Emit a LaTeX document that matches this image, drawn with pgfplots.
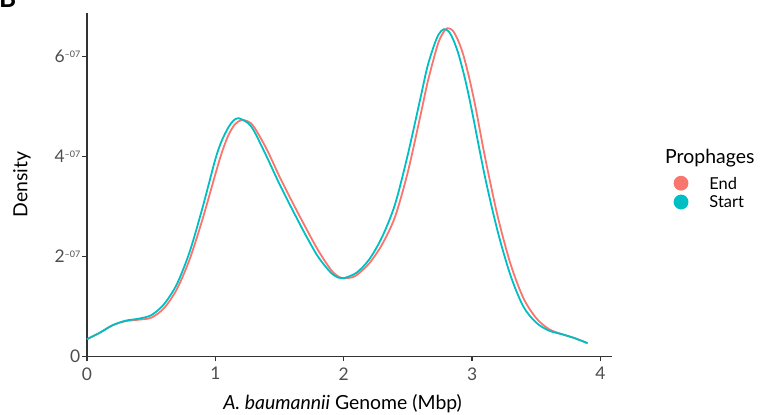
\documentclass[border=0pt]{standalone}
\usepackage{fontspec}
\setmainfont{Lato}
\usepackage{pgfplots}
\pgfplotsset{compat=1.18}
\definecolor{endc}{HTML}{F8766D}
\definecolor{startc}{HTML}{00BFC4}
\definecolor{axc}{HTML}{333333}
\definecolor{tickc}{HTML}{4D4D4D}
\newcommand{\ex}{\raisebox{5.5bp}{\fontsize{9}{9}\selectfont –07}}

% density curves, y in units of 1e-7
\pgfplotstableread{
x y
0.00 0.35
0.10 0.48
0.20 0.63
0.30 0.71
0.40 0.74
0.50 0.78
0.60 0.97
0.70 1.35
0.80 1.95
0.90 2.75
1.00 3.65
1.05 4.08
1.10 4.42
1.15 4.64
1.20 4.73
1.25 4.71
1.30 4.60
1.40 4.15
1.50 3.60
1.60 3.09
1.70 2.60
1.80 2.13
1.90 1.74
1.96 1.60
2.00 1.57
2.05 1.58
2.10 1.63
2.20 1.87
2.30 2.25
2.40 2.80
2.50 3.70
2.60 4.85
2.65 5.45
2.70 5.95
2.74 6.30
2.78 6.50
2.81 6.57
2.85 6.52
2.89 6.33
2.93 6.05
2.98 5.55
3.03 4.95
3.10 4.00
3.20 2.80
3.30 1.85
3.40 1.17
3.50 0.77
3.60 0.55
3.70 0.45
3.80 0.37
3.90 0.27
}\enddata

\pgfplotstableread{
x y
0.00 0.35
0.10 0.48
0.20 0.63
0.30 0.72
0.40 0.76
0.50 0.83
0.60 1.05
0.70 1.45
0.80 2.10
0.90 2.98
1.00 3.95
1.05 4.32
1.10 4.58
1.14 4.72
1.18 4.77
1.25 4.68
1.30 4.52
1.40 4.00
1.50 3.45
1.60 2.94
1.70 2.45
1.80 2.00
1.90 1.68
1.96 1.58
2.00 1.57
2.10 1.68
2.20 1.95
2.30 2.40
2.40 3.05
2.50 4.05
2.60 5.20
2.65 5.78
2.70 6.20
2.74 6.45
2.78 6.55
2.82 6.50
2.86 6.30
2.90 6.00
2.95 5.50
3.00 4.90
3.10 3.60
3.20 2.50
3.30 1.62
3.40 1.00
3.50 0.68
3.60 0.52
3.70 0.45
3.80 0.37
3.90 0.27
}\startdata

\begin{document}
\begin{tikzpicture}
\begin{axis}[
  at={(87bp,58.3bp)}, anchor=south west,
  scale only axis, width=525bp, height=344bp,
  xmin=0, xmax=4.09, ymin=0, ymax=6.88,
  clip=false,
  axis lines=left,
  axis line style={-, line width=1.5bp, color=axc},
  xtick={0,1,2,3,4}, xticklabels={0,1,2,3,4},
  ytick={0,2,4,6}, yticklabels={0,2\ex,4\ex,6\ex},
  tick align=outside, major tick length=4.5bp,
  tick style={line width=1.3bp, color=axc},
  ticklabel style={font=\fontsize{17.5}{20}\selectfont, color=tickc},
  xticklabel style={anchor=north, inner sep=0pt, yshift=-6bp},
  yticklabel style={anchor=base east, inner sep=0pt, xshift=-2bp, yshift=-6bp},
  xlabel={\textit{A. baumannii} Genome (Mbp)},
  ylabel={Density},
  label style={font=\fontsize{19.5}{22}\selectfont, color=black},
  xlabel style={at={(axis description cs:0.487,-0.135)}, anchor=center},
  ylabel style={at={(axis description cs:-0.124,0.5)}, anchor=center},
  legend style={draw=none, fill=none, inner sep=0pt,
    at={(axis description cs:1.117,0.477)}, anchor=west,
    font=\fontsize{16.5}{19}\selectfont, row sep=4bp,
    nodes={inner sep=0pt}},
  legend cell align=left,
  /tikz/column 2/.style={column sep=0pt},
  /tikz/column 1/.style={column sep=21bp},
]
\addplot[endc, line width=1.8bp, smooth,
  legend image code/.code={\fill[endc] (6.5bp,0.5bp) circle (6.5bp);}]
  table[x=x, y=y] {\enddata};
\addlegendentry{End}
\addplot[startc, line width=1.8bp, smooth,
  legend image code/.code={\fill[startc] (6.5bp,0.5bp) circle (6.5bp);}]
  table[x=x, y=y] {\startdata};
\addlegendentry{Start}
\node[anchor=west, inner sep=0pt, font=\fontsize{19.5}{22}\selectfont]
  at (axis description cs:1.101,0.578) {Prophages};
\end{axis}
\node[anchor=base west, inner sep=0pt, font=\fontsize{26}{28}\selectfont\bfseries] at (-1bp,407bp) {B};
\pgfresetboundingbox
\useasboundingbox (0,0) rectangle (767bp,415bp);
\end{tikzpicture}
\end{document}
